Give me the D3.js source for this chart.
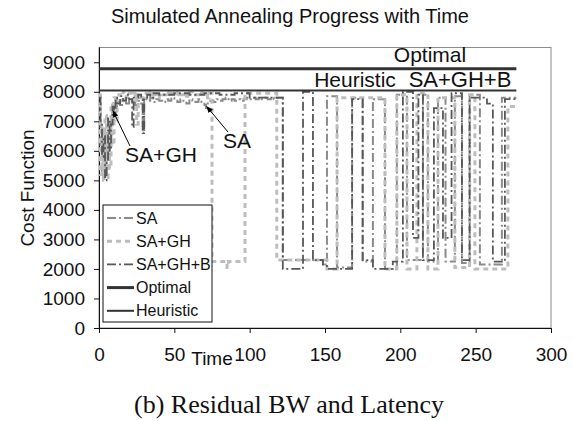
<!DOCTYPE html>
<html>
<head>
<meta charset="utf-8">
<script src="https://cdn.jsdelivr.net/npm/d3@7"></script>
<style>
  html, body { margin: 0; padding: 0; background: #fff; }
  svg { display: block; font-family: "Liberation Sans", Arial, sans-serif; }
</style>
</head>
<body>
<svg id="chart" width="573" height="421"></svg>
<script>
// ---------------- data ----------------
const xTicks = [0, 50, 100, 150, 200, 250, 300];
const yTicks = [0, 1000, 2000, 3000, 4000, 5000, 6000, 7000, 8000, 9000];
const seriesNames = ["SA", "SA+GH", "SA+GH+B", "Optimal", "Heuristic"];

const optimalCost = 8780;
const heuristicCost = 8040;
const refLineEnd = 277;

// [time, cost]
const saPoints = [[0,7600],[1,6200],[2,5200],[3,5100],[4,5900],[5,6600],[6,5700],[7,6900],[8,7300],[9,7000],[10,7500],[12,7650],[14,7550],[16,7700],[18,7600],[20,7750],[22,7650],[24,7550],[26,7700],[28,7600],[29,6700],[30,7750],[32,7700],[34,7800],[36,7650],[38,7750],[40,7700],[42,7650],[44,7750],[46,7700],[48,7800],[50,7700],[52,7650],[54,7750],[56,7700],[58,7600],[60,7750],[62,7700],[64,7650],[66,7750],[68,7650],[70,7550],[71,7450],[72,7600],[74,7700],[76,7650],[78,7750],[80,7700],[82,7750],[84,7800],[86,7700],[88,7750],[90,7700],[92,7750],[94,7700],[96,7750],[98,7800],[100,7750],[102,7800],[104,7750],[106,7800],[108,7750],[110,7800],[112,7750],[114,7800],[116,7750],[118,7800],[122,2300],[148.6,2150],[151.3,7850],[158,2050],[168,7800],[175,2250],[181.8,7750],[189.8,2000],[197.7,7900],[204.4,2300],[215,7900],[218.3,2250],[225,7800],[230,2250],[236.2,7850],[240.9,2200],[246,7900],[252.8,2150],[267.4,7800],[277,7800]];

const sagPoints = [[0,7900],[1,5200],[2,6800],[3,5000],[4,7200],[5,5100],[6,6500],[7,5400],[8,7600],[9,6200],[10,7800],[11,7000],[12,7900],[14,7700],[16,8000],[18,7800],[20,7950],[22,7700],[24,7950],[25,6900],[26,7900],[28,7800],[30,7950],[32,7850],[34,8000],[36,7900],[38,7800],[40,7950],[42,7900],[44,8000],[46,7850],[48,7950],[50,7900],[52,8000],[54,7900],[56,7950],[58,7850],[60,8000],[62,7950],[64,7900],[66,8000],[68,7950],[70,7900],[72,7800],[73,7950],[75,2250],[85,2050],[86,2250],[96.9,7950],[118,2300],[151.3,2000],[158,7800],[189.8,2000],[197.7,7900],[204.4,2000],[211,7950],[218.3,2000],[225,7800],[236.2,2050],[246,7900],[249.5,2000],[271.4,7500],[277,7500]];

const sagbPoints = [[0,7800],[1,7000],[2,5800],[3,6500],[4,5000],[5,5600],[6,7100],[7,6000],[8,6900],[9,7500],[10,7300],[11,7800],[12,7600],[14,7850],[16,7700],[18,7900],[20,7750],[22,6800],[23,7800],[26,7900],[28,7750],[29,6600],[30,7800],[32,7900],[34,7800],[36,7950],[40,7900],[50,7950],[60,7900],[70,7950],[80,7900],[90,7950],[100,7800],[110,7800],[122,2000],[135.4,8000],[142,2300],[148.6,2150],[151.3,2000],[168,7750],[175,2300],[181.8,2000],[195,2250],[201.7,8000],[208.4,3050],[212,7900],[215,2300],[222.3,7450],[228.3,3050],[234,7950],[240.9,2300],[246,7800],[257.5,7600],[261.4,2250],[269.4,7750],[277,7750]];

// ---------------- layout ----------------
const svg = d3.select("#chart");
const pLeft = 99, pRight = 551, pTop = 47.5, pBottom = 328;

const x = d3.scaleLinear().domain([0, 300]).range([pLeft, pRight]);
const y = d3.scaleLinear().domain([0, 9500]).range([pBottom, pTop]);

const styles = {
  "SA":        { stroke: "#8a8a8a", width: 2,   dash: "9,3,2,3" },
  "SA+GH":     { stroke: "#bdbdbd", width: 3,   dash: "5,4" },
  "SA+GH+B":   { stroke: "#575757", width: 1.8, dash: "9,3,2,3" },
  "Optimal":   { stroke: "#333333", width: 3,   dash: null },
  "Heuristic": { stroke: "#333333", width: 2,   dash: null }
};

// title
svg.append("text").attr("x", 290).attr("y", 23).attr("text-anchor", "middle")
  .attr("font-size", 20).attr("fill", "#111").text("Simulated Annealing Progress with Time");

// plot frame
svg.append("rect").attr("x", pLeft).attr("y", pTop).attr("width", pRight - pLeft).attr("height", pBottom - pTop)
  .attr("fill", "#fff").attr("stroke", "#8c8c8c").attr("stroke-width", 1);

// axes
const xAxis = d3.axisBottom(x).tickValues(xTicks).tickSize(5).tickPadding(15).tickFormat(d3.format("d"));
const yAxis = d3.axisLeft(y).tickValues(yTicks).tickSize(5).tickPadding(9).tickFormat(d3.format("d"));

const gx = svg.append("g").attr("transform", `translate(0,${pBottom})`).call(xAxis);
const gy = svg.append("g").attr("transform", `translate(${pLeft},0)`).call(yAxis);
[gx, gy].forEach(g => {
  g.selectAll("text").attr("font-size", 19).attr("font-family", '"Liberation Sans", Arial, sans-serif').attr("fill", "#111");
  g.selectAll("line,path").attr("stroke", "#111");
});
gx.select(".domain").attr("d", `M${pLeft},0.5H${pRight}`);
gy.select(".domain").attr("d", `M0.5,${pBottom}V${pTop}`);

// axis labels
svg.append("text").attr("x", 212).attr("y", 365).attr("text-anchor", "middle")
  .attr("font-size", 19).attr("fill", "#111").text("Time");
svg.append("text").attr("transform", "translate(34,188) rotate(-90)").attr("text-anchor", "middle")
  .attr("font-size", 19).attr("fill", "#111").text("Cost Function");

// series
const line = d3.line().x(d => x(d[0])).y(d => y(d[1])).curve(d3.curveStepAfter);
const plotG = svg.append("g");
function drawSeries(points, name) {
  const s = styles[name];
  plotG.append("path").datum(points).attr("d", line).attr("fill", "none")
    .attr("stroke", s.stroke).attr("stroke-width", s.width)
    .attr("stroke-dasharray", s.dash);
}
drawSeries(saPoints, "SA");
drawSeries(sagPoints, "SA+GH");
drawSeries(sagbPoints, "SA+GH+B");
drawSeries([[0, optimalCost], [refLineEnd, optimalCost]], "Optimal");
drawSeries([[0, heuristicCost], [refLineEnd, heuristicCost]], "Heuristic");

// in-plot labels
svg.append("text").attr("x", 430).attr("y", 62).attr("text-anchor", "middle")
  .attr("font-size", 21).attr("fill", "#111").text("Optimal");
svg.append("text").attr("x", 355).attr("y", 87).attr("text-anchor", "middle")
  .attr("font-size", 21).attr("fill", "#111").text("Heuristic");
svg.append("text").attr("x", 460).attr("y", 87).attr("text-anchor", "middle")
  .attr("font-size", 22).attr("fill", "#111").text("SA+GH+B");

// annotations with arrows
const defs = svg.append("defs");
defs.append("marker").attr("id", "arr").attr("viewBox", "0 0 10 10").attr("refX", 9).attr("refY", 5)
  .attr("markerWidth", 7).attr("markerHeight", 7).attr("orient", "auto")
  .append("path").attr("d", "M0,1L10,5L0,9Z").attr("fill", "#000");

svg.append("line").attr("x1", 130).attr("y1", 146).attr("x2", x(9.3)).attr("y2", y(7350))
  .attr("stroke", "#000").attr("stroke-width", 1).attr("marker-end", "url(#arr)");
svg.append("text").attr("x", 161).attr("y", 162).attr("text-anchor", "middle")
  .attr("font-size", 21).attr("fill", "#111").text("SA+GH");

svg.append("line").attr("x1", 228).attr("y1", 132).attr("x2", x(71.5)).attr("y2", y(7500))
  .attr("stroke", "#000").attr("stroke-width", 1).attr("marker-end", "url(#arr)");
svg.append("text").attr("x", 237).attr("y", 148).attr("text-anchor", "middle")
  .attr("font-size", 21).attr("fill", "#111").text("SA");

// legend
const lg = svg.append("g");
lg.append("rect").attr("x", 103).attr("y", 205).attr("width", 109).attr("height", 117)
  .attr("fill", "#fff").attr("stroke", "#111").attr("stroke-width", 1);
seriesNames.forEach((name, i) => {
  const cy = 218 + i * 23.2;
  const s = styles[name];
  lg.append("line").attr("x1", 107).attr("x2", 134).attr("y1", cy).attr("y2", cy)
    .attr("stroke", s.stroke).attr("stroke-width", s.width).attr("stroke-dasharray", s.dash);
  lg.append("text").attr("x", 136).attr("y", cy + 5.5).attr("font-size", 16).attr("fill", "#111").text(name);
});

// caption
svg.append("text").attr("x", 289).attr("y", 413).attr("text-anchor", "middle")
  .attr("font-family", '"Liberation Serif", "Times New Roman", serif')
  .attr("font-size", 26).attr("fill", "#111").text("(b) Residual BW and Latency");
</script>
</body>
</html>
